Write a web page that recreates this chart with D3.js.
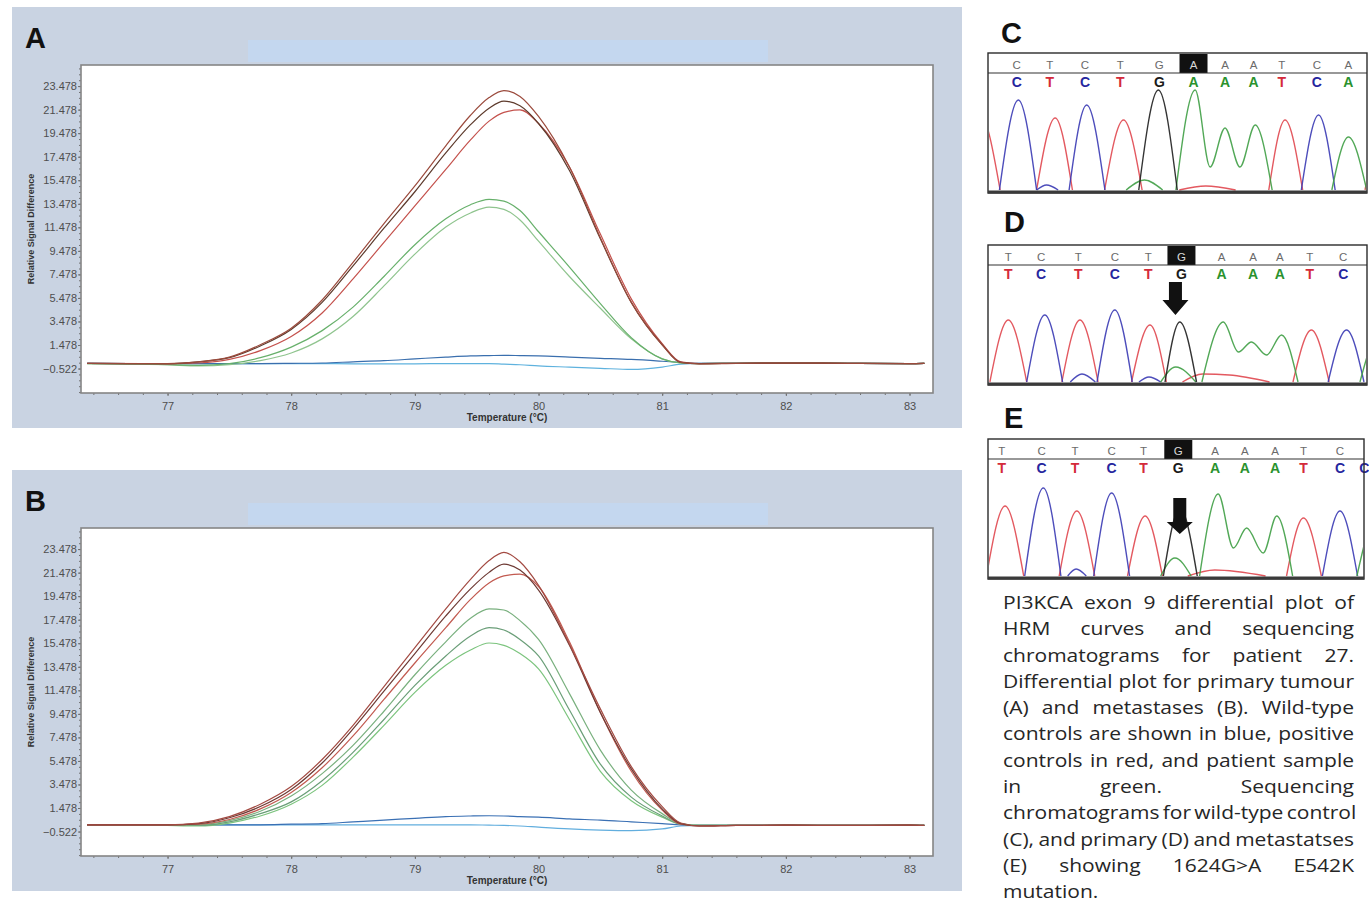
<!DOCTYPE html>
<html>
<head>
<meta charset="utf-8">
<script src="https://cdn.jsdelivr.net/npm/d3@7"></script>
<style>
  html, body { margin: 0; padding: 0; background: #ffffff; }
  svg { display: block; }
</style>
</head>
<body>
<svg id="fig" width="1369" height="904"></svg>
<script>
// ---------- HRM differential curves ----------
const temps = [76.35, 76.8, 77.0, 77.25, 77.5, 77.75, 78.0, 78.25, 78.5, 78.75, 79.0, 79.25, 79.45, 79.6,
               79.72, 79.85, 80.0, 80.25, 80.5, 80.75, 81.0, 81.15, 81.3, 81.6, 82.0, 82.5, 83.0, 83.12];

// Primary tumour (A)
const redA1   = [-0.08, -0.1, -0.1, 0.05, 0.45, 1.5, 2.9, 5.3, 8.5, 11.8, 15.0, 18.4, 21.0, 22.5, 23.1, 22.6, 20.9, 16.6, 10.6, 5.1, 1.5, 0.0, -0.12, -0.08, -0.06, -0.08, -0.1, -0.08];
const redA2   = [-0.08, -0.1, -0.1, 0.05, 0.4, 1.4, 2.8, 5.1, 8.2, 11.4, 14.5, 17.8, 20.2, 21.6, 22.2, 21.8, 20.3, 16.3, 10.5, 5.1, 1.5, 0.0, -0.1, -0.08, -0.06, -0.08, -0.1, -0.08];
const redA3   = [-0.08, -0.1, -0.12, -0.05, 0.25, 1.0, 2.2, 4.2, 7.1, 10.2, 13.3, 16.4, 18.9, 20.5, 21.25, 21.45, 20.3, 16.6, 10.9, 5.4, 1.6, 0.05, -0.1, -0.08, -0.06, -0.08, -0.1, -0.08];
const greenA1 = [-0.1, -0.15, -0.2, -0.25, -0.1, 0.4, 1.3, 2.7, 4.7, 7.3, 10.0, 12.2, 13.4, 13.85, 13.7, 12.9, 11.1, 8.1, 5.0, 2.1, 0.3, -0.05, -0.1, -0.08, -0.06, -0.08, -0.1, -0.08];
const greenA2 = [-0.1, -0.15, -0.2, -0.3, -0.2, 0.15, 0.8, 2.0, 3.9, 6.5, 9.2, 11.5, 12.7, 13.2, 13.0, 12.1, 10.3, 7.3, 4.6, 2.0, 0.3, -0.05, -0.1, -0.08, -0.06, -0.08, -0.1, -0.08];
const blueA1  = [-0.08, -0.1, -0.1, -0.1, -0.1, -0.1, -0.08, -0.05, 0.05, 0.15, 0.3, 0.45, 0.55, 0.58, 0.6, 0.58, 0.55, 0.45, 0.35, 0.25, 0.1, 0.0, -0.08, -0.08, -0.06, -0.08, -0.1, -0.08];
const blueA2  = [-0.08, -0.1, -0.1, -0.1, -0.1, -0.1, -0.1, -0.1, -0.12, -0.12, -0.12, -0.1, -0.1, -0.1, -0.15, -0.2, -0.3, -0.4, -0.5, -0.6, -0.4, -0.15, -0.08, -0.08, -0.06, -0.08, -0.1, -0.08];

// Metastases (B)
const redB1   = [0.05, 0.05, 0.05, 0.2, 0.75, 1.8, 3.3, 5.6, 8.5, 11.8, 15.1, 18.4, 20.9, 22.5, 23.2, 22.4, 20.4, 15.4, 9.9, 5.0, 1.6, 0.2, -0.05, 0.0, 0.02, 0.0, 0.02, 0.0];
const redB2   = [0.05, 0.05, 0.05, 0.15, 0.65, 1.6, 3.05, 5.3, 8.2, 11.4, 14.6, 17.8, 20.1, 21.5, 22.2, 21.7, 20.0, 15.3, 9.6, 4.8, 1.4, 0.15, -0.05, 0.0, 0.02, 0.0, 0.02, 0.0];
const redB3   = [0.05, 0.05, 0.05, 0.1, 0.5, 1.4, 2.8, 4.9, 7.6, 10.7, 13.8, 16.8, 19.2, 20.6, 21.2, 21.35, 20.3, 15.6, 9.6, 4.6, 1.3, 0.1, -0.05, 0.0, 0.02, 0.0, 0.02, 0.0];
const greenB1 = [0.05, 0.05, 0.0, 0.05, 0.4, 1.2, 2.5, 4.4, 6.8, 9.7, 12.8, 15.6, 17.6, 18.4, 18.3, 17.4, 15.8, 11.2, 6.4, 3.0, 1.0, 0.15, 0.0, 0.0, 0.02, 0.0, 0.02, 0.0];
const greenB2 = [0.05, 0.05, 0.0, 0.0, 0.3, 1.0, 2.0, 3.8, 6.2, 9.0, 11.9, 14.4, 16.1, 16.8, 16.6, 15.8, 14.4, 9.8, 5.2, 2.4, 0.8, 0.1, 0.0, 0.0, 0.02, 0.0, 0.02, 0.0];
const greenB3 = [0.05, 0.05, 0.0, -0.05, 0.2, 0.8, 1.8, 3.4, 5.8, 8.5, 11.3, 13.6, 14.9, 15.5, 15.3, 14.6, 13.3, 9.0, 4.6, 2.1, 0.7, 0.1, 0.0, 0.0, 0.02, 0.0, 0.02, 0.0];
const blueB1  = [0.05, 0.05, 0.05, 0.05, 0.05, 0.05, 0.1, 0.15, 0.3, 0.45, 0.6, 0.75, 0.8, 0.82, 0.8, 0.75, 0.7, 0.55, 0.45, 0.3, 0.15, 0.05, 0.0, 0.0, 0.02, 0.0, 0.02, 0.0];
const blueB2  = [0.05, 0.05, 0.05, 0.05, 0.05, 0.05, 0.05, 0.05, 0.05, 0.05, 0.05, 0.05, 0.05, 0.02, 0.0, -0.05, -0.15, -0.3, -0.4, -0.45, -0.3, -0.05, 0.0, 0.0, 0.02, 0.0, 0.02, 0.0];

const yTicks = [23.478, 21.478, 19.478, 17.478, 15.478, 13.478, 11.478, 9.478, 7.478, 5.478, 3.478, 1.478, -0.522];
const xTicks = [77, 78, 79, 80, 81, 82, 83];
const tempDomain = [76.3, 83.19];
const signalDomain = [-2.6, 25.27];

// ---------- Sequencing chromatograms ----------
const baseColor = { A: "#3f9f45", C: "#3a3ab4", G: "#1e1e1e", T: "#e0474f" };
const callColor = { A: "#2a922e", C: "#26269e", G: "#1a1a1a", T: "#d42a3a" };

const callsC = ["C", "T", "C", "T", "G", "A", "A", "A", "T", "C", "A"];
const callPosC = [0, 1.0, 2.06, 3.12, 4.3, 5.33, 6.28, 7.14, 7.99, 9.05, 10.0];
const callsD = ["T", "C", "T", "C", "T", "G", "A", "A", "A", "T", "C"];
const callPosD = [0, 0.98, 2.09, 3.18, 4.18, 5.17, 6.37, 7.31, 8.11, 9.0, 10.0];
const callsE = ["T", "C", "T", "C", "T", "G", "A", "A", "A", "T", "C", "C"];
const callPosE = [0, 1.18, 2.17, 3.25, 4.19, 5.22, 6.31, 7.19, 8.08, 8.92, 10.0, 10.72];

// peaks per dye: each entry is one stretch of trace as [base position, relative height]
const traceC = {
  T: [[[-1.7, 0], [-1.1, 0.75], [-0.5, 0]], [[0.6, 0], [1.16, 0.72], [1.68, 0]], [[2.65, 0], [3.22, 0.70], [3.78, 0]],
      [[7.6, 0], [8.09, 0.70], [8.62, 0]], [[10.5, 0], [11.1, 0.7], [11.7, 0]], [[4.9, 0], [5.7, 0.04], [6.6, 0]]],
  C: [[[-0.52, 0], [0.05, 0.90], [0.6, 0]], [[1.58, 0], [2.11, 0.85], [2.66, 0]], [[8.58, 0], [9.10, 0.75], [9.6, 0]],
      [[0.6, 0], [0.9, 0.05], [1.25, 0]]],
  G: [[[3.68, 0], [4.27, 1.0], [4.84, 0]]],
  A: [[[4.8, 0], [5.38, 1.0], [5.83, 0.23], [6.28, 0.62], [6.73, 0.23], [7.19, 0.65], [7.7, 0]],
      [[9.5, 0], [10.0, 0.53], [10.55, 0]], [[3.3, 0], [3.85, 0.1], [4.4, 0]]]
};
const traceD = {
  T: [[[-0.55, 0], [0, 0.62], [0.55, 0]], [[1.6, 0], [2.14, 0.62], [2.68, 0]], [[3.68, 0], [4.23, 0.57], [4.72, 0]],
      [[8.5, 0], [9.05, 0.52], [9.58, 0]], [[5.2, 0], [5.8, 0.08], [6.6, 0.07], [7.8, 0]]],
  C: [[[0.55, 0], [1.09, 0.67], [1.62, 0]], [[2.65, 0], [3.18, 0.72], [3.7, 0]], [[9.55, 0], [10.1, 0.52], [10.62, 0]],
      [[1.85, 0], [2.2, 0.08], [2.6, 0]], [[3.9, 0], [4.2, 0.05], [4.55, 0]]],
  G: [[[4.68, 0], [5.12, 0.60], [5.62, 0]]],
  A: [[[5.78, 0], [6.42, 0.60], [6.87, 0.30], [7.26, 0.40], [7.71, 0.27], [8.16, 0.47], [8.65, 0]],
      [[10.5, 0], [11.1, 0.5], [11.7, 0]], [[4.55, 0], [5.0, 0.15], [5.6, 0]]]
};
const traceE = {
  T: [[[-0.45, 0], [0.1, 0.70], [0.65, 0]], [[1.7, 0], [2.22, 0.65], [2.75, 0]], [[3.72, 0], [4.24, 0.60], [4.75, 0]],
      [[8.42, 0], [8.92, 0.58], [9.45, 0]], [[5.5, 0], [6.3, 0.06], [7.8, 0]]],
  C: [[[0.68, 0], [1.23, 0.88], [1.75, 0]], [[2.72, 0], [3.25, 0.83], [3.78, 0]], [[9.48, 0], [10.0, 0.65], [10.52, 0]],
      [[1.95, 0], [2.2, 0.07], [2.5, 0]]],
  G: [[[4.78, 0], [5.27, 0.68], [5.78, 0]]],
  A: [[[5.85, 0], [6.4, 0.82], [6.85, 0.28], [7.24, 0.48], [7.73, 0.23], [8.13, 0.60], [8.6, 0]],
      [[10.5, 0], [11.2, 0.7], [11.9, 0]], [[4.7, 0], [5.12, 0.18], [5.6, 0]]]
};

// ---------- Caption ----------
const captionLines = [
  "PI3KCA exon 9 differential plot of",
  "HRM curves and sequencing",
  "chromatograms for patient 27.",
  "Differential plot for primary tumour",
  "(A) and metastases (B).  Wild-type",
  "controls are shown in blue, positive",
  "controls in red, and patient sample",
  "in green. Sequencing",
  "chromatograms for wild-type control",
  "(C), and primary (D) and metastatses",
  "(E) showing 1624G>A E542K",
  "mutation."
];

// =====================================================================
const svg = d3.select("#fig");
const tickFont = "'Liberation Sans Narrow', 'Arial Narrow', 'Liberation Sans', Arial, sans-serif";

function hrmPanel(top, letter, series, key) {
  const g = svg.append("g").attr("transform", `translate(0,${top})`);
  g.append("rect").attr("x", 12).attr("y", 0).attr("width", 950).attr("height", 421).attr("fill", "#c9d3e2");
  g.append("rect").attr("x", 248).attr("y", 33).attr("width", 520).attr("height", 22).attr("fill", "#c4d7ef");

  g.append("text").attr("x", 25).attr("y", 41).text(letter)
    .attr("font-family", "'Liberation Sans', Arial, sans-serif").attr("font-weight", "bold")
    .attr("font-size", 29).attr("fill", "#111");

  const plot = { l: 81, r: 933, t: 58, b: 386 };
  const x = d3.scaleLinear().domain(tempDomain).range([plot.l, plot.r]);
  const y = d3.scaleLinear().domain(signalDomain).range([plot.b, plot.t]);

  g.append("rect").attr("x", plot.l).attr("y", plot.t).attr("width", plot.r - plot.l).attr("height", plot.b - plot.t)
    .attr("fill", "#ffffff");

  const clipId = "clip-" + key;
  g.append("clipPath").attr("id", clipId).append("rect")
    .attr("x", plot.l).attr("y", plot.t).attr("width", plot.r - plot.l).attr("height", plot.b - plot.t);

  const line = d3.line().x((d, i) => x(temps[i])).y(d => y(d)).curve(d3.curveMonotoneX);
  g.append("g").attr("clip-path", `url(#${clipId})`)
    .selectAll("path").data(series).join("path")
    .attr("d", d => line(d.values))
    .attr("fill", "none").attr("stroke", d => d.color).attr("stroke-width", 1.2);

  // axes
  const yMinor = g.append("g").attr("transform", `translate(${plot.l},0)`)
    .call(d3.axisLeft(y).tickValues(d3.range(-2.522, 25.2, 0.5)).tickFormat("").tickSize(2));
  const yAxis = g.append("g").attr("transform", `translate(${plot.l},0)`)
    .call(d3.axisLeft(y).tickValues(yTicks).tickFormat(d3.format(".3f")).tickSize(3).tickPadding(1));
  const xMinor = g.append("g").attr("transform", `translate(0,${plot.b})`)
    .call(d3.axisBottom(x).tickValues(d3.range(76.4, 83.19, 0.2)).tickFormat("").tickSize(2));
  const xAxis = g.append("g").attr("transform", `translate(0,${plot.b})`)
    .call(d3.axisBottom(x).tickValues(xTicks).tickFormat(d3.format("d")).tickSize(3).tickPadding(6));
  [yMinor, yAxis, xMinor, xAxis].forEach(a => {
    a.select(".domain").remove();
    a.selectAll("line").attr("stroke", "#6f6f6f");
    a.selectAll("text").attr("font-family", tickFont).attr("font-size", 11).attr("fill", "#4e4e4e");
  });

  g.append("rect").attr("x", plot.l).attr("y", plot.t).attr("width", plot.r - plot.l).attr("height", plot.b - plot.t)
    .attr("fill", "none").attr("stroke", "#858585").attr("stroke-width", 1.6);

  g.append("text").attr("transform", `translate(34,${(plot.t + plot.b) / 2}) rotate(-90)`)
    .attr("text-anchor", "middle").text("Relative Signal Difference")
    .attr("font-family", "'Liberation Sans', Arial, sans-serif").attr("font-weight", "bold")
    .attr("font-size", 9).attr("fill", "#333");
  g.append("text").attr("x", 507).attr("y", 414).attr("text-anchor", "middle").text("Temperature (°C)")
    .attr("font-family", "'Liberation Sans', Arial, sans-serif").attr("font-weight", "bold")
    .attr("font-size", 10).attr("fill", "#333");
}

hrmPanel(7, "A", [
  { values: blueA2, color: "#5fb2de" }, { values: blueA1, color: "#3a6fae" },
  { values: greenA2, color: "#8fc48e" }, { values: greenA1, color: "#67b06b" },
  { values: redA3, color: "#c4514c" }, { values: redA2, color: "#5d3a2c" }, { values: redA1, color: "#9b4a3c" }
], "a");

hrmPanel(470, "B", [
  { values: blueB2, color: "#62aede" }, { values: blueB1, color: "#3a70b4" },
  { values: greenB3, color: "#7cc47e" }, { values: greenB2, color: "#6a9e78" }, { values: greenB1, color: "#79b07e" },
  { values: redB3, color: "#c25a50" }, { values: redB2, color: "#6e3a34" }, { values: redB1, color: "#a34a42" }
], "b");

// ---------------------------------------------------------------------
function chromPanel(cfg) {
  const [x0, y0, x1, y1] = cfg.box;
  const sep = y0 + 20;
  const g = svg.append("g");
  const xs = d3.scaleLinear().domain(cfg.domain).range([x0, x1]);
  const base = y1 - 3;
  const ys = d3.scaleLinear().domain([0, 1]).range([base, base - 100]);

  g.append("text").attr("x", cfg.labelX).attr("y", cfg.labelY).text(cfg.letter)
    .attr("font-family", "'Liberation Sans', Arial, sans-serif").attr("font-weight", "bold")
    .attr("font-size", 29).attr("fill", "#111");

  g.append("rect").attr("x", x0).attr("y", y0).attr("width", x1 - x0).attr("height", y1 - y0).attr("fill", "#fff");

  const clipId = "clip-" + cfg.letter;
  g.append("clipPath").attr("id", clipId).append("rect")
    .attr("x", x0 + 1).attr("y", sep + 1).attr("width", x1 - x0 - 2).attr("height", y1 - sep - 2);

  const line = d3.line().x(d => xs(d[0])).y(d => ys(d[1])).curve(d3.curveMonotoneX);
  const tg = g.append("g").attr("clip-path", `url(#${clipId})`);
  ["T", "C", "A", "G"].forEach(dye => {
    tg.append("g").selectAll("path").data(cfg.trace[dye]).join("path")
      .attr("d", line).attr("fill", "none").attr("stroke", baseColor[dye])
      .attr("stroke-width", 1.4).attr("stroke-opacity", 0.9);
  });

  // basecall rows
  const topCalls = cfg.calls.slice(0, 11);
  const hl = cfg.highlight;
  g.append("rect").attr("x", xs(cfg.pos[hl]) - 14).attr("y", y0 + 1).attr("width", 28).attr("height", 19).attr("fill", "#111");
  g.selectAll("text.top").data(topCalls).join("text").attr("class", "top")
    .attr("x", (d, i) => xs(cfg.pos[i])).attr("y", y0 + 16).attr("text-anchor", "middle").text(d => d)
    .attr("font-family", "'Liberation Sans', Arial, sans-serif").attr("font-size", 11.5)
    .attr("fill", (d, i) => i === hl ? "#d8d8d8" : "#6a6a6a");
  g.selectAll("text.call").data(cfg.calls).join("text").attr("class", "call")
    .attr("x", (d, i) => xs(cfg.pos[i])).attr("y", y0 + 34).attr("text-anchor", "middle").text(d => d)
    .attr("font-family", tickFont).attr("font-weight", "bold").attr("font-size", 14)
    .attr("fill", d => callColor[d]);

  // frame
  g.append("line").attr("x1", x0).attr("x2", x1).attr("y1", sep).attr("y2", sep).attr("stroke", "#333").attr("stroke-width", 1.2);
  g.append("rect").attr("x", x0).attr("y", y0).attr("width", x1 - x0).attr("height", y1 - y0)
    .attr("fill", "none").attr("stroke", "#2b2b2b").attr("stroke-width", 1.4);
  g.append("line").attr("x1", x0).attr("x2", x1).attr("y1", y1 - 1).attr("y2", y1 - 1)
    .attr("stroke", "#3a3a3a").attr("stroke-width", 3);

  // arrow marking the mutated position
  if (cfg.arrow) {
    const ax = xs(cfg.pos[hl]) + cfg.arrow.dx;
    const [sTop, hTop, tip] = cfg.arrow.ys;
    const sw = 6.5, hw = 13;
    g.append("path").attr("d",
      `M${ax - sw},${sTop} L${ax + sw},${sTop} L${ax + sw},${hTop} L${ax + hw},${hTop} L${ax},${tip} L${ax - hw},${hTop} L${ax - sw},${hTop} Z`)
      .attr("fill", "#111");
  }
}

chromPanel({ letter: "C", labelX: 1001, labelY: 43, box: [988, 53, 1367, 193], domain: [-0.865, 10.56],
             calls: callsC, pos: callPosC, highlight: 5, trace: traceC });
chromPanel({ letter: "D", labelX: 1004, labelY: 232, box: [988, 245, 1367, 385], domain: [-0.606, 10.71],
             calls: callsD, pos: callPosD, highlight: 5, trace: traceD, arrow: { dx: -6, ys: [282, 300, 315] } });
chromPanel({ letter: "E", labelX: 1004, labelY: 428, box: [988, 439, 1364, 579], domain: [-0.405, 10.71],
             calls: callsE, pos: callPosE, highlight: 5, trace: traceE, arrow: { dx: 1.5, ys: [498, 522, 534] } });

// ---------------------------------------------------------------------
// justified caption block, glyphs widened slightly so the widest line fills the column
(function caption() {
  const left = 1003, right = 1354, width = right - left;
  const fontSize = 18;
  const g = svg.append("g").attr("font-family", "'Open Sans', 'Noto Sans', sans-serif")
    .attr("font-size", fontSize).attr("fill", "#262626");
  const probe = g.append("text").text(captionLines[3]);
  const natural = probe.node().getComputedTextLength();
  probe.remove();
  const sx = Math.max(0.8, Math.min(1.6, (width - 2) / natural));
  const inner = g.append("g").attr("transform", `translate(${left},0) scale(${sx},1)`);
  const avail = width / sx;
  const spaceW = (() => {
    const t = inner.append("text").text("a a"); const a = inner.append("text").text("aa");
    const w = t.node().getComputedTextLength() - a.node().getComputedTextLength();
    t.remove(); a.remove(); return w;
  })();
  captionLines.forEach((lineText, i) => {
    const y = 609 + i * 26.3;
    const words = lineText.split(/\s+/);
    const nodes = words.map(w => inner.append("text").attr("y", y).text(w));
    const widths = nodes.map(n => n.node().getComputedTextLength());
    const total = d3.sum(widths);
    const last = i === captionLines.length - 1;
    const gap = last || words.length < 2 ? spaceW : Math.max(spaceW * 0.6, (avail - total) / (words.length - 1));
    let x = 0;
    nodes.forEach((n, k) => { n.attr("x", x); x += widths[k] + gap; });
  });
})();
</script>
</body>
</html>
